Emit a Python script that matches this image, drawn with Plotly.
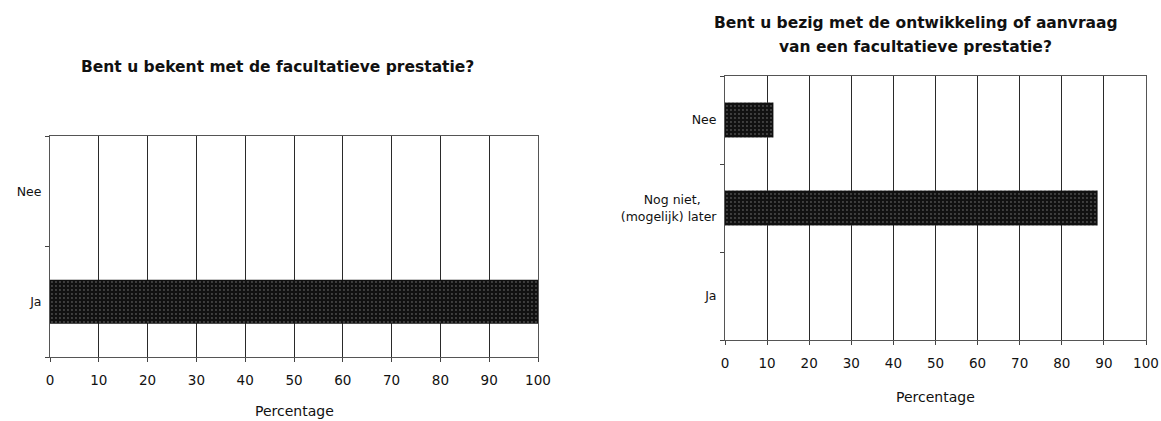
import plotly.graph_objects as go

# ---- data ----
left_title = "Bent u bekent met de facultatieve prestatie?"
left_categories = ["Nee", "Ja"]
left_values = [0, 100]

right_title_lines = ["Bent u bezig met de ontwikkeling of aanvraag", "van een facultatieve prestatie?"]
right_categories = ["Nee", "Nog niet,<br>(mogelijk) later", "Ja"]
right_values = [11.5, 88.5, 0]

x_tickvals = [0, 10, 20, 30, 40, 50, 60, 70, 80, 90, 100]
x_title = "Percentage"

W, H = 1161, 421
FONT = "DejaVu Sans"


def centered(label):
    # pad shorter lines with no-break spaces so multi-line labels look centred
    lines = label.split("<br>")
    longest = max(len(l) for l in lines)
    out = []
    for l in lines:
        pad = int(round((longest - len(l)) * 0.55))
        out.append(l + "\u00a0" * pad)
    return "<br>".join(out)


bar_marker = dict(
    color="#111111",
    line=dict(color="#111111", width=0),
    pattern=dict(shape=".", fgcolor="#8a8a8a", bgcolor="#111111", size=4, solidity=0.18),
)

fig = go.Figure()
fig.add_trace(go.Bar(x=left_values, y=left_categories, orientation="h",
                     marker=bar_marker, xaxis="x", yaxis="y", showlegend=False))
fig.add_trace(go.Bar(x=right_values, y=right_categories, orientation="h",
                     marker=bar_marker, xaxis="x2", yaxis="y2", showlegend=False))


def xax(domain, anchor):
    return dict(domain=domain, anchor=anchor, range=[0, 100], tickvals=x_tickvals,
                showgrid=True, gridcolor="#2a2a2a", gridwidth=1,
                showline=True, linecolor="#555", linewidth=1, mirror=True,
                ticks="outside", ticklen=4, tickcolor="#444",
                ticklabelstandoff=7, automargin=False,
                tickfont=dict(family=FONT, size=13.5, color="#111"), zeroline=False)


def yax(domain, anchor, cats):
    return dict(domain=domain, anchor=anchor, type="category", autorange="reversed",
                categoryorder="array", categoryarray=cats,
                tickvals=cats, ticktext=[centered(c) for c in cats],
                showline=True, linecolor="#555", linewidth=1, mirror=True,
                ticks="outside", ticklen=4, tickcolor="#444", tickson="boundaries",
                ticklabelstandoff=5, showgrid=False, automargin=False,
                tickfont=dict(family=FONT, size=12.5, color="#111"))


lx = [50 / W, 538 / W]
ly = [(H - 357) / H, (H - 136) / H]
rx = [725 / W, 1146 / W]
ry = [(H - 340) / H, (H - 76) / H]

fig.update_layout(
    width=W, height=H,
    margin=dict(l=0, r=0, t=0, b=0, autoexpand=False),
    paper_bgcolor="white", plot_bgcolor="white",
    bargap=0.6,
    xaxis=xax(lx, "y"), yaxis=yax(ly, "x", left_categories),
    xaxis2=xax(rx, "y2"), yaxis2=yax(ry, "x2", right_categories),
    font=dict(family=FONT, color="#111"),
)

ann = []
ann.append(dict(text=f"<b>{left_title}</b>", x=277 / W, y=(H - 67) / H, xref="paper", yref="paper",
                showarrow=False, xanchor="center", yanchor="middle", font=dict(family=FONT, size=15.5)))
for i, line in enumerate(right_title_lines):
    ann.append(dict(text=f"<b>{line}</b>", x=916 / W, y=(H - (23 + 24 * i)) / H, xref="paper", yref="paper",
                    showarrow=False, xanchor="center", yanchor="middle", font=dict(family=FONT, size=15.5)))
ann.append(dict(text=x_title, x=(lx[0] + lx[1]) / 2, y=(H - 411) / H, xref="paper", yref="paper",
                showarrow=False, xanchor="center", yanchor="middle", font=dict(family=FONT, size=14)))
ann.append(dict(text=x_title, x=(rx[0] + rx[1]) / 2, y=(H - 397) / H, xref="paper", yref="paper",
                showarrow=False, xanchor="center", yanchor="middle", font=dict(family=FONT, size=14)))
fig.update_layout(annotations=ann)

fig.write_html(
    "out.html",
    config={"displayModeBar": False},
    post_script="document.body.style.margin='0';document.body.style.padding='0';",
)
